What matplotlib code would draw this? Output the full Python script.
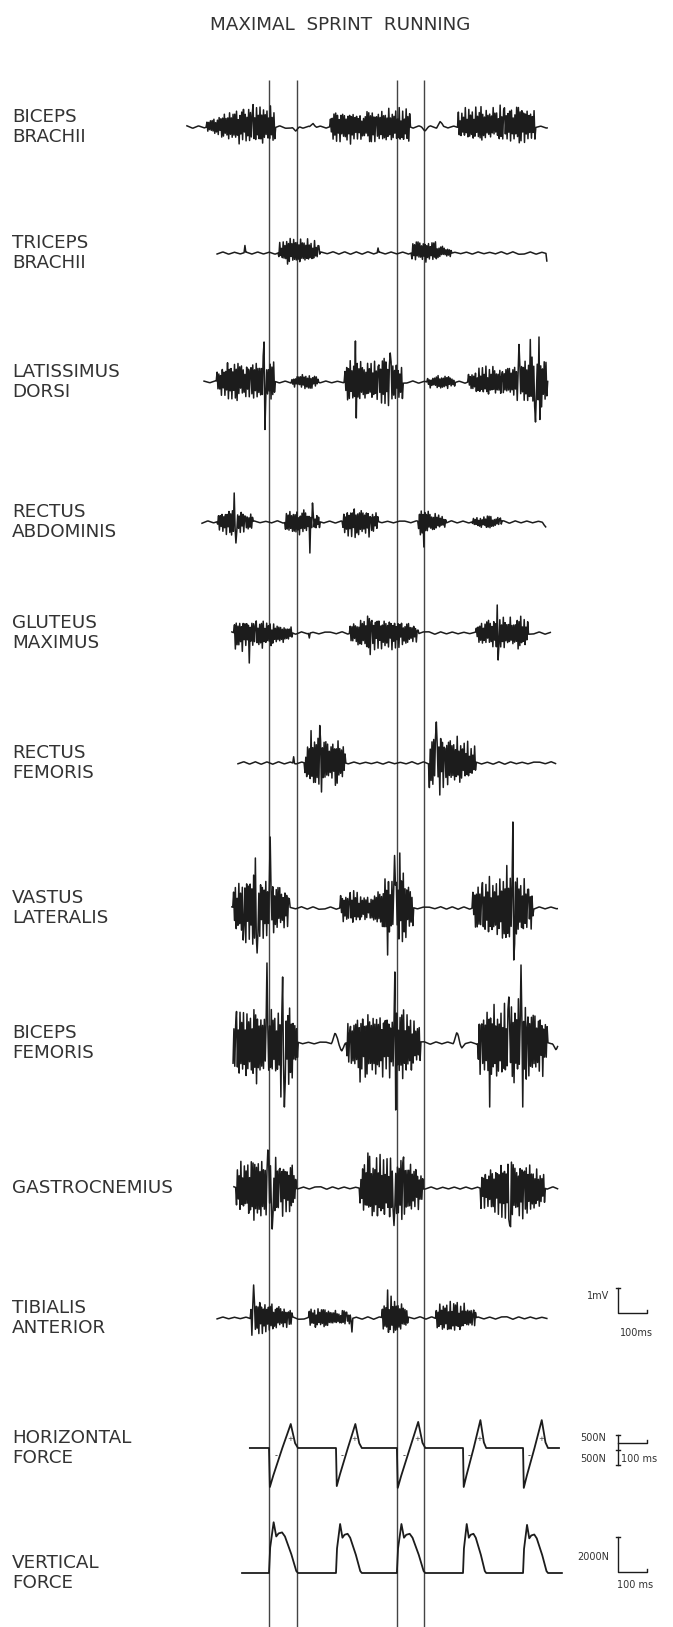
import numpy as np
import matplotlib.pyplot as plt

# ---- data ----------------------------------------------------------------
# time in ms (0 = first foot strike), EMG in mV, forces in N

title = "MAXIMAL  SPRINT  RUNNING"

muscles = ["BICEPS\nBRACHII", "TRICEPS\nBRACHII", "LATISSIMUS\nDORSI",
           "RECTUS\nABDOMINIS", "GLUTEUS\nMAXIMUS", "RECTUS\nFEMORIS",
           "VASTUS\nLATERALIS", "BICEPS\nFEMORIS", "GASTROCNEMIUS",
           "TIBIALIS\nANTERIOR"]

# start / end of each EMG record
emg_span = [(-283, 962), (-179, 959), (-224, 962), (-231, 955), (-128, 972),
            (-107, 990), (-128, 997), (-124, 997), (-121, 997), (-179, 959)]

# bursts: (onset, offset, peak up mV, peak down mV, envelope along the burst)
emg_bursts = [
    [(-214, 21, 0.95, 0.75, [0.3, 0.6, 0.9, 1, 1, 1]),
     (210, 486, 0.85, 0.75, [0.6, 1, 0.8, 1, 1, 0.9]),
     (652, 917, 1.00, 0.65, [0.7, 1, 0.9, 1, 1, 0.9])],
    [(34, 176, 0.75, 0.45, [0.5, 1, 1, 1, 0.8, 0.4]),
     (493, 628, 0.70, 0.40, [0.8, 1, 0.9, 0.7, 0.5, 0.3])],
    [(-179, 21, 1.2, 1.0, [0.4, 0.9, 0.7, 0.8, 1, 0.6]),
     (79, 169, 0.38, 0.38, [0.5, 1, 0.6]),
     (262, 462, 1.2, 1.1, [0.7, 1, 0.8, 0.9, 1, 0.6]),
     (545, 641, 0.38, 0.38, [0.5, 0.8, 1, 0.4]),
     (686, 959, 1.2, 1.1, [0.3, 0.6, 0.5, 0.7, 1, 1])],
    [(-179, -55, 0.65, 0.65, [0.5, 1, 0.8, 0.5]),
     (55, 176, 0.65, 0.65, [0.8, 1, 0.6, 0.5]),
     (255, 376, 0.70, 0.78, [0.6, 1, 0.8, 0.5]),
     (514, 610, 0.75, 0.75, [1, 0.8, 0.5, 0.3]),
     (700, 803, 0.28, 0.32, [0.6, 1, 0.6])],
    [(-121, 79, 0.65, 0.85, [1, 0.9, 0.8, 0.8, 0.6, 0.4]),
     (279, 514, 0.72, 0.85, [0.6, 1, 1, 0.9, 0.7, 0.4]),
     (714, 893, 0.75, 0.75, [0.5, 0.9, 1, 0.9, 0.8])],
    [(124, 262, 1.5, 1.3, [0.5, 1, 0.9, 0.7, 0.8, 0.5]),
     (552, 714, 1.6, 1.3, [1, 0.9, 0.7, 0.8, 0.6, 0.4])],
    [(-124, 72, 1.7, 1.7, [0.6, 0.9, 1, 0.9, 0.7, 0.4]),
     (245, 497, 1.6, 1.6, [0.4, 0.5, 0.3, 0.8, 1, 0.6]),
     (703, 910, 1.7, 1.8, [0.5, 0.7, 0.8, 1, 0.8, 0.5])],
    [(-124, 100, 1.7, 2.0, [0.7, 1, 0.8, 0.9, 1, 0.6]),
     (269, 521, 1.5, 1.7, [0.6, 0.9, 1, 0.9, 1, 0.6]),
     (721, 959, 1.8, 1.9, [0.8, 1, 0.9, 1, 0.9, 0.6])],
    [(-114, 93, 1.55, 1.6, [0.6, 0.9, 1, 0.9, 0.8, 0.5]),
     (314, 531, 1.55, 1.6, [0.5, 1, 0.9, 1, 0.8, 0.5]),
     (731, 952, 1.3, 1.6, [0.5, 0.8, 1, 1, 0.8, 0.5])],
    [(-62, 79, 0.95, 0.85, [1, 0.9, 0.7, 0.6, 0.4]),
     (138, 286, 0.55, 0.5, [0.7, 1, 0.6, 0.5]),
     (390, 479, 1.05, 0.85, [0.6, 1, 0.8, 0.5]),
     (576, 714, 0.8, 0.7, [0.8, 1, 0.8, 0.5])],
]

# single tall spikes: (time, mV)
emg_spikes = [
    [],
    [(-83, 0.30), (375, 0.20), (957, 0.32), (959, -0.32)],
    [(-17, 1.60), (-14, -1.90), (297, 1.64), (300, -1.44), (418, 1.16),
     (862, 1.50), (900, 1.70), (920, -1.60), (930, 1.80), (934, -1.50)],
    [(-121, 1.16), (-115, -0.84), (141, -1.24), (150, 0.76), (535, -1.00)],
    [(-69, -1.20), (138, -0.20), (786, 1.12), (790, -1.08)],
    [(86, 0.25), (176, 1.50), (180, -1.16), (576, 1.64), (590, -1.28)],
    [(3, 2.84), (-48, 2.00), (-41, -1.80), (-90, -1.28), (452, 2.20),
     (434, 2.10), (410, -1.88), (841, 3.44), (845, -2.08), (820, 1.70)],
    [(-7, 3.20), (48, 2.64), (41, -2.16), (52, -2.56), (434, 2.84),
     (438, -2.68), (314, -1.56), (869, 3.12), (827, 1.84), (762, -2.56),
     (876, -2.56)],
    [(-3, 1.52), (10, -1.64), (342, 1.40), (430, -1.50), (830, -1.48)],
    [(-52, 1.32), (286, -0.56), (410, 1.12)],
]

# slow humps on the baseline: (time, mV)
emg_humps = [
    [(93, -0.20), (152, 0.16), (538, -0.12), (590, 0.20)],
    [],
    [],
    [(955, -0.20)],
    [],
    [],
    [],
    [(228, 0.40), (250, -0.32), (648, 0.44), (665, -0.20), (990, -0.30)],
    [],
    [],
]

# normalised interference pattern used inside the bursts
emg_texture = [0.95, -0.8, 0.7, -1.0, 0.85, -0.6, 0.9, -0.95, 1.0, -0.7, 0.6,
               -0.9, 0.8, -0.75, 0.95, -0.65, 0.75, -1.0, 0.6, -0.85, 0.9,
               -0.55, 0.8, -0.95, 0.7, -0.8, 1.0, -0.9, 0.65, -0.75, 0.85,
               -0.95, 0.75, -0.6, 0.95, -0.8, 0.55, -1.0, 0.8, -0.7, 0.9,
               -0.75, 1.0, -0.6, 0.75, -0.9, 0.6, -0.85, 0.95, -0.7, 0.85,
               -1.0, 0.7]

event_ms = [0, 95, 440, 535]           # vertical marker lines

contact_ms = [0, 231, 441, 669, 876]
contact_dur = [100, 89, 98, 80, 86]
hforce_trough = [-1300, -1270, -1330, -1300, -1330]
hforce_peak = [800, 800, 870, 930, 930]
vforce_peak = [2900, 2800, 2800, 2800, 2750]
force_span = [(-66, 1000), (-93, 1010)]

hshape_t = [0, 0.03, 0.15, 0.46, 0.62, 0.75, 0.9, 1.0]
hshape_f = [0, -1.0, -0.7, 0, 0.55, 1.0, 0.2, 0]
vshape_t = [0, 0.04, 0.16, 0.25, 0.33, 0.45, 0.55, 0.77, 0.94, 1.0]
vshape_f = [0, 0.5, 1.0, 0.72, 0.78, 0.80, 0.72, 0.37, 0.04, 0]

# ---- layout ---------------------------------------------------------------
W, H = 673, 1627
PX_MS = 0.29          # pixels per ms
X0 = 269              # pixel of t = 0
MV_PX = 25            # pixels per mV
HN_PX = 15 / 500      # pixels per N, horizontal force
VN_PX = 35 / 2000     # pixels per N, vertical force
emg_base = [127, 253, 382, 522, 633, 763, 908, 1043, 1188, 1318]
hf_base, vf_base = 1448, 1573
ink = "#1c1c1c"
txt = "#333333"
LABEL_FS = 13.2


def ms(px):
    return (px - X0) / PX_MS


def emg_trace(k):
    a, b = emg_span[k]
    t = np.arange(a, b, 3.0)
    tex = np.array(emg_texture)
    n = len(tex)
    knots = np.arange(a, b + 20, 20)
    y = 0.05 * np.interp(t, knots, tex[(np.arange(len(knots)) * 3 + k) % n])
    # slower amplitude modulation so bursts look ragged, not like blocks
    mk = np.arange(a, b + 12, 12)
    mod = 0.5 + 0.5 * np.abs(np.interp(t, mk, tex[(np.arange(len(mk)) * 5 + 3 * k) % n]))
    for (t0, t1, up, dn, env) in emg_bursts[k]:
        m = (t >= t0) & (t <= t1)
        e = np.interp(t[m], np.linspace(t0, t1, len(env)), env) * mod[m]
        v = tex[(np.arange(m.sum()) + 7 * k) % n]
        y[m] += np.where(v > 0, v * up, v * dn) * e
    for (th, amp) in emg_humps[k]:
        y += amp * np.clip(1 - np.abs(t - th) / 12, 0, 1)
    for (ts, amp) in emg_spikes[k]:
        y[np.argmin(np.abs(t - ts))] = amp
    return t, y


def force_trace(span, shape_t, shape_f, lo, hi):
    t = [span[0]]
    f = [0]
    for c, d, a, p in zip(contact_ms, contact_dur, lo, hi):
        for st, sf in zip(shape_t, shape_f):
            t.append(c + st * d)
            f.append(sf * (p if sf > 0 else a))
    t.append(span[1])
    f.append(0)
    return np.array(t), np.array(f)


fig = plt.figure(figsize=(W / 100, H / 100), dpi=100)
ax = fig.add_axes([0, 0, 1, 1])
ax.set_xlim(ms(0), ms(W))
ax.set_ylim(H, 0)
ax.axis("off")

ax.text(ms(340), 25, title, ha="center", va="center", fontsize=13.2, color=txt)

for tv in event_ms:
    ax.vlines(tv, 80, H, color="#444444", lw=1.0)

for k, name in enumerate(muscles):
    t, y = emg_trace(k)
    ax.plot(t, emg_base[k] - y * MV_PX, color=ink, lw=1.1)
    ax.text(ms(12), emg_base[k], name, ha="left", va="center",
            fontsize=LABEL_FS, color=txt, linespacing=1.2)

# horizontal force
t, f = force_trace(force_span[0], hshape_t, hshape_f,
                   [abs(v) for v in hforce_trough], hforce_peak)
ax.plot(t, hf_base - f * HN_PX, color=ink, lw=1.3)
for c, d in zip(contact_ms, contact_dur):
    ax.text(c + 0.25 * d, hf_base + 8, "-", ha="center", va="center", fontsize=6, color=txt)
    ax.text(c + 0.72 * d, hf_base - 9, "+", ha="center", va="center", fontsize=5, color=txt)
ax.text(ms(12), hf_base, "HORIZONTAL\nFORCE", ha="left", va="center",
        fontsize=LABEL_FS, color=txt, linespacing=1.2)

# vertical force
t, f = force_trace(force_span[1], vshape_t, vshape_f,
                   [0] * len(contact_ms), vforce_peak)
ax.plot(t, vf_base - f * VN_PX, color=ink, lw=1.3)
ax.text(ms(12), vf_base, "VERTICAL\nFORCE", ha="left", va="center",
        fontsize=LABEL_FS, color=txt, linespacing=1.2)

# calibration bars
bx = ms(618)
cap = 7
# 1 mV / 100 ms
ax.plot([bx, bx, bx + 100, bx + 100], [1313 - MV_PX, 1313, 1313, 1310], color=ink, lw=1)
ax.plot([bx - cap, bx + cap], [1313 - MV_PX] * 2, color=ink, lw=1)
ax.text(ms(609), 1296, "1mV", ha="right", va="center", fontsize=7, color=txt)
ax.text(ms(620), 1333, "100ms", ha="left", va="center", fontsize=7, color=txt)
# 500 N / 100 ms
top = 1435
ax.plot([bx, bx], [top, top + 2 * 500 * HN_PX], color=ink, lw=1)
for yy in (top, top + 500 * HN_PX, top + 2 * 500 * HN_PX):
    ax.plot([bx - cap, bx + cap], [yy, yy], color=ink, lw=1)
ax.plot([bx, bx + 100, bx + 100], [1443, 1443, 1440], color=ink, lw=1)
ax.text(ms(606), 1438, "500N", ha="right", va="center", fontsize=7, color=txt)
ax.text(ms(606), 1459, "500N", ha="right", va="center", fontsize=7, color=txt)
ax.text(ms(621), 1459, "100 ms", ha="left", va="center", fontsize=7, color=txt)
# 2000 N / 100 ms
ax.plot([bx, bx, bx + 100, bx + 100], [1572 - 2000 * VN_PX, 1572, 1572, 1569], color=ink, lw=1)
ax.plot([bx - cap, bx + cap], [1572 - 2000 * VN_PX] * 2, color=ink, lw=1)
ax.text(ms(609), 1557, "2000N", ha="right", va="center", fontsize=7, color=txt)
ax.text(ms(617), 1585, "100 ms", ha="left", va="center", fontsize=7, color=txt)

fig.savefig("out.png", dpi=100)
